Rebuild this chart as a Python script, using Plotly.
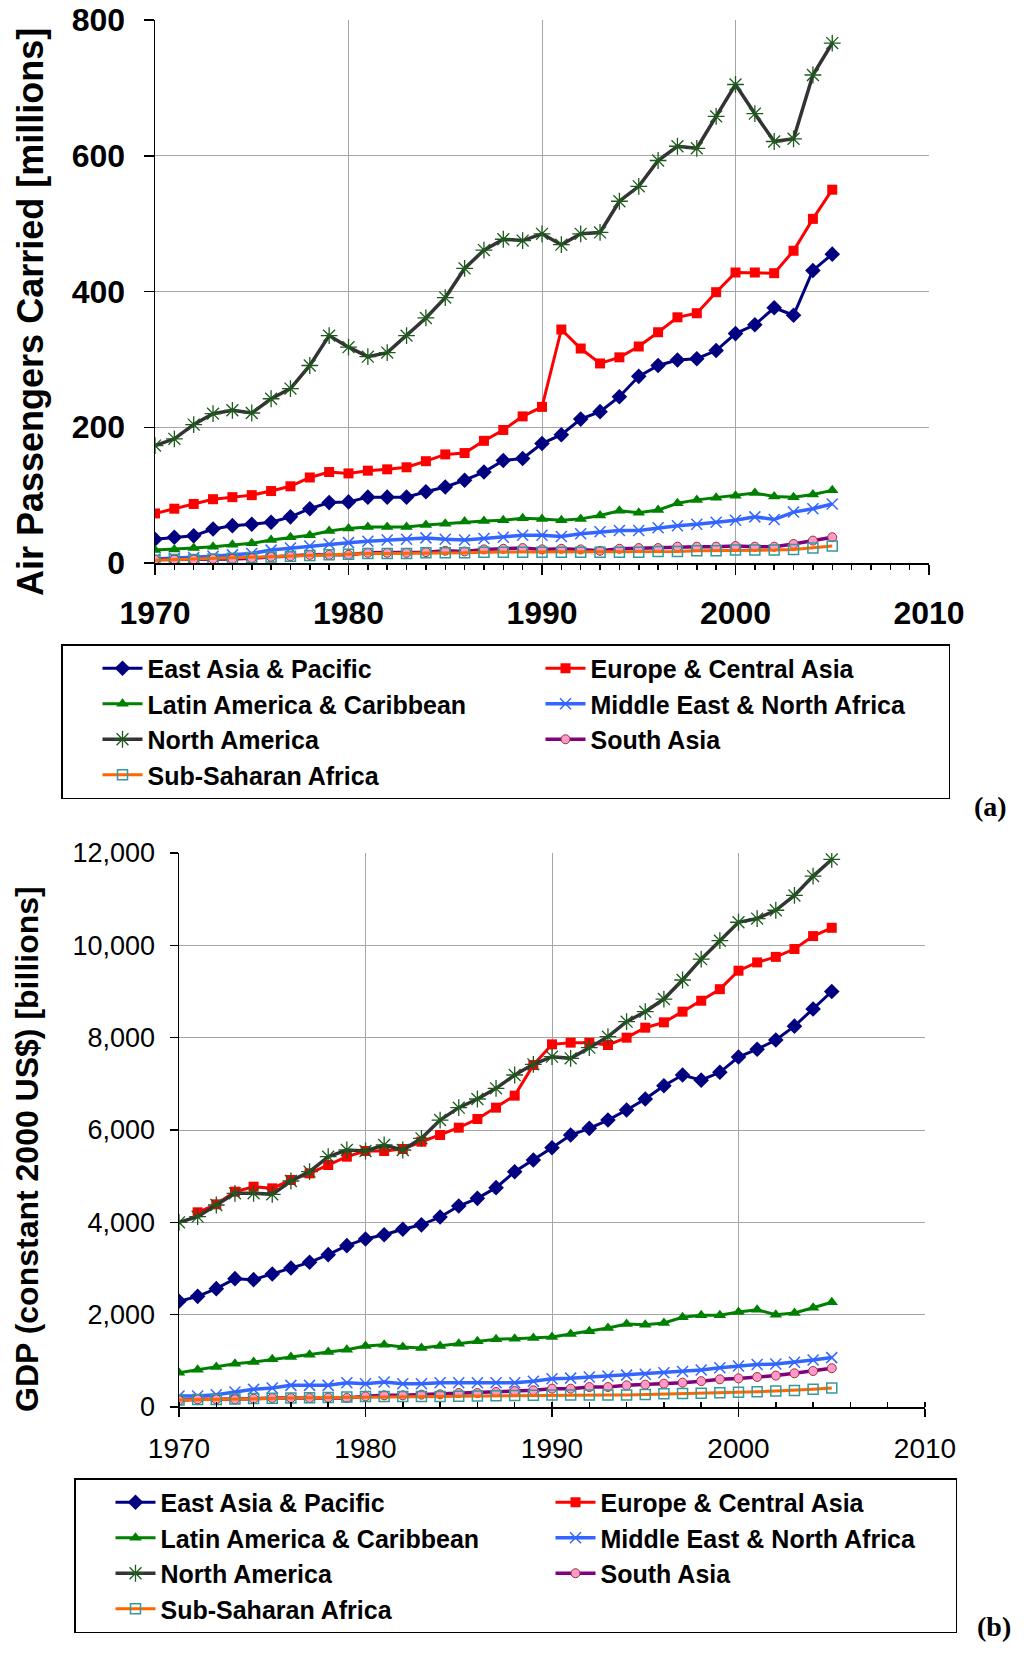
import plotly.graph_objects as go

years = list(range(1970, 2006))

regions = ["East Asia & Pacific", "Europe & Central Asia", "Latin America & Caribbean",
           "Middle East & North Africa", "North America", "South Asia", "Sub-Saharan Africa"]

# Air passengers carried [millions]
ea_air = [35, 38, 40, 50, 55, 57, 60, 68, 80, 89,
          90, 97, 97, 97, 105, 112, 122, 134, 151, 154,
          176, 189, 212, 223, 245, 275, 291, 299, 301, 313,
          338, 351, 376, 365, 431, 455]
eu_air = [73, 80, 87, 94, 97, 100, 106, 113, 126, 134,
          132, 136, 138, 141, 150, 160, 162, 180, 196, 216,
          230, 344, 316, 294, 303, 319, 340, 362, 368, 399,
          428, 428, 427, 460, 507, 550]
la_air = [19, 20, 22, 24, 27, 29, 34, 38, 41, 47,
          51, 53, 53, 53, 56, 58, 61, 62, 63, 66,
          65, 63, 65, 70, 77, 74, 78, 88, 93, 96,
          99, 103, 98, 97, 101, 107]
me_air = [6, 7, 8, 10, 12, 14, 19, 22, 25, 28,
          30, 32, 34, 35, 37, 35, 34, 36, 38, 41,
          41, 39, 43, 46, 48, 48, 52, 55, 57, 60,
          63, 68, 64, 75, 80, 87]
na_air = [173, 183, 204, 220, 225, 221, 242, 257, 291, 335,
          318, 304, 310, 335, 361, 391, 434, 461, 477, 475,
          485, 469, 485, 487, 533, 555, 593, 614, 611, 658,
          705, 662, 621, 625, 719, 766]
sa_air = [5, 5, 5, 6, 6, 7, 9, 10, 12, 12,
          12, 15, 15, 15, 16, 18, 17, 20, 21, 22,
          20, 21, 20, 18, 21, 22, 22, 24, 24, 24,
          25, 24, 24, 28, 33, 38]
ssa_air = [4, 5, 5, 6, 7, 8, 9, 10, 11, 12,
           13, 14, 14, 14, 15, 15, 15, 16, 16, 16,
           16, 16, 16, 16, 16, 16, 17, 17, 18, 18,
           19, 19, 19, 20, 22, 25]

# GDP (constant 2000 US$) [billions]
ea_gdp = [2289, 2397, 2563, 2780, 2758, 2881, 3011, 3134, 3300, 3495,
          3640, 3730, 3850, 3946, 4115, 4354, 4520, 4751, 5097, 5350,
          5617, 5892, 6036, 6216, 6433, 6671, 6960, 7191, 7080, 7250,
          7580, 7750, 7950, 8250, 8620, 9000]
eu_gdp = [None, 4217, 4390, 4664, 4772, 4736, 4917, 5061, 5242, 5422,
          5545, 5545, 5588, 5747, 5892, 6050, 6238, 6484, 6744, 7408,
          7855, 7892, 7892, 7841, 8000, 8216, 8332, 8563, 8800, 9050,
          9450, 9630, 9750, 9920, 10200, 10380]
la_gdp = [744, 809, 866, 939, 975, 1032, 1083, 1134, 1191, 1242,
          1321, 1350, 1300, 1278, 1321, 1372, 1422, 1466, 1480, 1494,
          1516, 1581, 1639, 1711, 1798, 1783, 1820, 1942, 1986, 1986,
          2058, 2108, 2000, 2036, 2150, 2270]
me_gdp = [238, 238, 267, 325, 382, 411, 469, 469, 469, 527,
          505, 541, 505, 505, 527, 527, 527, 527, 527, 556,
          610, 625, 650, 670, 690, 710, 740, 770, 800, 850,
          890, 920, 930, 970, 1020, 1070]
na_gdp = [4000, 4123, 4375, 4628, 4628, 4606, 4895, 5097, 5422, 5567,
          5545, 5675, 5567, 5820, 6216, 6484, 6671, 6902, 7191, 7422,
          7588, 7552, 7783, 8022, 8346, 8563, 8837, 9249, 9700, 10100,
          10500, 10580, 10760, 11080, 11500, 11860]
sa_gdp = [144, 166, 166, 166, 180, 195, 195, 195, 202, 195,
          231, 253, 253, 267, 274, 303, 303, 325, 347, 361,
          397, 397, 433, 433, 469, 484, 505, 527, 560, 600,
          620, 650, 680, 730, 780, 840]
ssa_gdp = [150, 160, 165, 175, 185, 190, 195, 200, 205, 215,
           225, 230, 230, 228, 230, 233, 238, 242, 250, 255,
           258, 260, 258, 260, 262, 270, 285, 295, 300, 310,
           320, 333, 345, 360, 385, 410]

air_series = [ea_air, eu_air, la_air, me_air, na_air, sa_air, ssa_air]
gdp_series = [ea_gdp, eu_gdp, la_gdp, me_gdp, na_gdp, sa_gdp, ssa_gdp]

styles = [
    dict(line=dict(color="#000080", width=3), marker=dict(symbol="diamond", size=12, color="#000080")),
    dict(line=dict(color="#FF0000", width=3), marker=dict(symbol="square", size=10, color="#FF0000")),
    dict(line=dict(color="#008000", width=3), marker=dict(symbol="triangle-up", size=11, color="#008000")),
    dict(line=dict(color="#3366FF", width=3.5), marker=dict(symbol="x-thin-open", size=11, color="#3366FF",
                                                            line=dict(color="#3366FF", width=1.5))),
    dict(line=dict(color="#333333", width=3.5), marker=dict(symbol="asterisk-open", size=14, color="#1E5A1E",
                                                            line=dict(color="#1E5A1E", width=1.3))),
    dict(line=dict(color="#800080", width=3.5), marker=dict(symbol="circle", size=9, color="#FF99CC",
                                                            line=dict(color="#993333", width=1))),
    dict(line=dict(color="#FF6600", width=3), marker=dict(symbol="square-open", size=10, color="#339999",
                                                          line=dict(color="#339999", width=1.5))),
]

FONT = "Liberation Sans, Arial, sans-serif"
SERIF = "Liberation Serif, Times New Roman, serif"
W, H = 1024, 1657

fig = go.Figure()
for name, vals, st in zip(regions, air_series, styles):
    fig.add_trace(go.Scatter(x=years, y=vals, name=name, mode="lines+markers",
                             line=st["line"], marker=st["marker"],
                             xaxis="x", yaxis="y", legend="legend"))
for name, vals, st in zip(regions, gdp_series, styles):
    fig.add_trace(go.Scatter(x=years, y=vals, name=name, mode="lines+markers",
                             line=st["line"], marker=st["marker"], connectgaps=False,
                             xaxis="x2", yaxis="y2", legend="legend2"))

def px_x(v):
    return v / W

def px_y(v):
    return 1 - v / H

grid = "#A6A6A6"
legend_common = dict(xanchor="left", yanchor="top", orientation="h",
                     entrywidthmode="pixels", itemwidth=40, indentation=35,
                     bgcolor="white", bordercolor="black", borderwidth=1.5,
                     font=dict(family=FONT, size=25, color="black", weight="bold"),
                     traceorder="normal")

fig.update_layout(
    width=W, height=H,
    margin=dict(l=0, r=0, t=0, b=0, autoexpand=False),
    paper_bgcolor="white", plot_bgcolor="white",
    showlegend=True,
    xaxis=dict(domain=[px_x(155), px_x(929)], range=[1970, 2010], dtick=10, tick0=1970,
               showgrid=True, gridcolor=grid, gridwidth=1, automargin=False,
               showline=True, linecolor="black", linewidth=1.5,
               ticks="outside", ticklen=10, tickcolor="black", tickwidth=1.5,
               minor=dict(dtick=1, ticks="outside", ticklen=5, tickcolor="black"),
               tickfont=dict(family=FONT, size=32, color="black", weight="bold"),
               ticklabelstandoff=11, ticklabeloverflow="allow",
               zeroline=False, anchor="y", fixedrange=True),
    yaxis=dict(domain=[px_y(563), px_y(20)], range=[0, 800], dtick=200,
               showgrid=True, gridcolor=grid, gridwidth=1, automargin=False,
               showline=True, linecolor="black", linewidth=1.5,
               ticks="outside", ticklen=10, tickcolor="black", tickwidth=1.5,
               tickfont=dict(family=FONT, size=32, color="black", weight="bold"),
               ticklabelstandoff=12, ticklabeloverflow="allow",
               zeroline=False, anchor="x", fixedrange=True),
    xaxis2=dict(domain=[px_x(179), px_x(925)], range=[1970, 2010], dtick=10, tick0=1970,
                showgrid=True, gridcolor=grid, gridwidth=1, automargin=False,
                showline=True, linecolor="black", linewidth=1.5,
                ticks="outside", ticklen=8, tickcolor="black", tickwidth=1.5,
                minor=dict(dtick=2, ticks="inside", ticklen=5, tickcolor="black"),
                tickfont=dict(family=FONT, size=28, color="black"),
                ticklabelstandoff=8, ticklabeloverflow="allow",
                zeroline=False, anchor="y2", fixedrange=True),
    yaxis2=dict(domain=[px_y(1407), px_y(853)], range=[0, 12000], dtick=2000, tickformat=",",
                showgrid=True, gridcolor=grid, gridwidth=1, automargin=False,
                showline=True, linecolor="black", linewidth=1.5,
                ticks="outside", ticklen=8, tickcolor="black", tickwidth=1.5,
                tickfont=dict(family=FONT, size=27, color="black"),
                ticklabelstandoff=9, ticklabeloverflow="allow",
                zeroline=False, anchor="x2", fixedrange=True),
    legend=dict(x=px_x(61), y=px_y(644), entrywidth=353, **legend_common),
    legend2=dict(x=px_x(74), y=px_y(1478), entrywidth=350, **legend_common),
    annotations=[
        dict(text="Air Passengers Carried [millions]", x=px_x(30), y=px_y(312), xref="paper", yref="paper",
             textangle=-90, showarrow=False, xanchor="center", yanchor="middle",
             font=dict(family=FONT, size=36, color="black", weight="bold")),
        dict(text="GDP (constant 2000 US$) [billions]", x=px_x(27), y=px_y(1149), xref="paper", yref="paper",
             textangle=-90, showarrow=False, xanchor="center", yanchor="middle",
             font=dict(family=FONT, size=32, color="black", weight="bold")),
        dict(text="(a)", x=px_x(990), y=px_y(806), xref="paper", yref="paper", showarrow=False,
             xanchor="center", yanchor="middle",
             font=dict(family=SERIF, size=28, color="black", weight="bold")),
        dict(text="(b)", x=px_x(994), y=px_y(1626), xref="paper", yref="paper", showarrow=False,
             xanchor="center", yanchor="middle",
             font=dict(family=SERIF, size=28, color="black", weight="bold")),
    ],
)

# remove the page's default body margin so the figure fills the window exactly
fig.write_html("out.html",
               config={"displayModeBar": False, "staticPlot": True},
               post_script="document.body.style.margin='0px'; document.body.style.overflow='hidden';")
